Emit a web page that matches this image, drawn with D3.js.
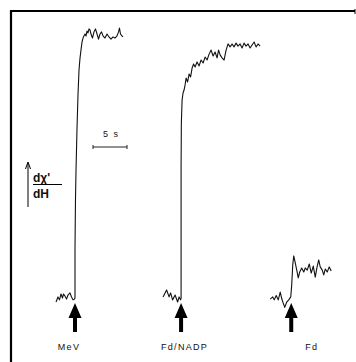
<!DOCTYPE html>
<html lang="en">
  <head>
    <meta charset="UTF-8" />
    <title>EPR traces</title>
    <style>
      body { margin: 0; background: #fff; }
      text { font-family: "Liberation Sans", Arial, sans-serif; fill: #111; }
    </style>
  </head>
  <body>
    <svg id="svg" width="356" height="362"></svg>

    <script src="https://cdn.jsdelivr.net/npm/d3@7"></script>
    <script>
      // additions (arrows), time of addition on the common time axis (s)
      const LABELS = ["MeV", "Fd/NADP", "Fd"];
      const INJECT_AT = [0, 15.6, 31.8];

      // traces: time after addition (s), signal (arbitrary units)
      const MEV_T = [-2.79, -2.5, -2.28, -2.06, -1.84, -1.69, -1.47, -1.25, -1.03, -0.74, -0.51, -0.29, -0.07,
        0, 0, 0.07, 0.15, 0.29, 0.44, 0.59, 0.74, 0.88, 1.03, 1.18,
        1.32, 1.47, 1.62, 1.76, 1.91, 2.06, 2.21, 2.35, 2.57, 2.79, 3.01, 3.24, 3.46, 3.68, 3.9, 4.12,
        4.41, 4.71, 5.0, 5.29, 5.59, 5.88, 6.18, 6.4, 6.54, 6.69, 6.91, 7.06];
      const MEV_V = [-1.5, 0.4, -0.7, 1.5, 0, 1.5, 0.7, -0.4, 1.1, 1.9, 0.4, -0.7, -0.4,
        0, 17.9, 36.6, 47.8, 62.7, 75.7, 85.1, 89.6, 92.5, 95.5, 97.0,
        97.8, 98.5, 97.8, 99.6, 98.9, 100.4, 100, 98.5, 97, 99.3, 100.4, 98.5, 96.6, 98.5, 99.3, 97.8,
        97, 98.5, 97.4, 96.6, 97.4, 97, 97.8, 99.3, 100.7, 98.5, 97.8, 97.4];

      const FDN_T = [-2.65, -2.13, -1.76, -1.54, -1.25, -0.88, -0.51, -0.29, -0.07,
        0, 0, 0.04, 0.15, 0.29, 0.44, 0.59, 0.74, 0.96, 1.18, 1.4, 1.62, 1.84, 2.06, 2.35, 2.65, 2.94,
        3.24, 3.53, 3.82, 4.12, 4.41, 4.71, 5.0, 5.29, 5.51, 5.74, 6.03, 6.32, 6.62, 6.91, 7.21, 7.5,
        7.79, 8.09, 8.38, 8.68, 8.97, 9.26, 9.56, 9.85, 10.15, 10.44, 10.74, 11.03, 11.32, 11.62];
      const FDN_V = [0.4, 3.0, 0.4, 1.9, -0.7, 1.1, -1.5, 0.4, -0.7,
        0, 47.8, 65.3, 73.9, 76.5, 77.6, 79.5, 82.1, 80.6, 83.6, 82.5, 85.8, 87.3, 86.2, 88.1, 86.6, 88.8,
        87.7, 89.9, 88.8, 91.0, 92.5, 90.3, 91.8, 89.6, 92.5, 90.7, 89.6, 88.8, 92.5, 94.8, 93.7, 94.8,
        93.7, 95.1, 94.0, 94.8, 93.3, 95.1, 94.0, 94.8, 93.3, 94.4, 95.5, 93.7, 94.8, 94.0];

      const FD_T = [-3.09, -2.72, -2.5, -2.21, -1.91, -1.62, -1.4, -1.18, -0.96, -0.66, -0.37, -0.07,
        0.07, 0.22, 0.37, 0.59, 0.81, 1.03, 1.25, 1.54, 1.84, 2.06, 2.35, 2.65, 2.94, 3.24, 3.53,
        3.82, 4.04, 4.26, 4.56, 4.78, 5.0, 5.29, 5.59, 5.88];
      const FD_V = [-0.4, 0.4, -0.7, 0.9, -0.7, 2.2, -0.2, -1.9, -3.5, -1.5, -0.7, 0.4,
        4.9, 12.3, 15.7, 13.1, 10.4, 7.5, 9.7, 11.2, 9.7, 11.2, 10.4, 12.7, 9.3, 11.9, 7.8,
        11.9, 14.2, 11.6, 10.4, 8.6, 10.8, 9.7, 11.6, 10.1];

      const SCALE_BAR_S = 5;
      const SCALE_LABEL = "5 s";

      const TRACES = [
        { t: MEV_T, v: MEV_V },
        { t: FDN_T, v: FDN_V },
        { t: FD_T, v: FD_V },
      ];
      const LABEL_DX = [-6, 3.5, 20.5];

      const svg = d3.select("#svg");
      const xScale = d3.scaleLinear().domain([-10, 40]).range([7, 347]);
      const yScale = d3.scaleLinear().domain([0, 100]).range([298, 30]);

      // frame (top and left)
      svg.append("path")
        .attr("d", "M11,362 L11,11 L355,11")
        .attr("fill", "none").attr("stroke", "#000").attr("stroke-width", 2.2);
      svg.append("line")
        .attr("x1", 355).attr("x2", 355).attr("y1", 9).attr("y2", 14)
        .attr("stroke", "#000").attr("stroke-width", 1);

      const line = d3.line()
        .x((d) => xScale(d[0]))
        .y((d) => yScale(d[1]));

      TRACES.forEach((tr, i) => {
        const pts = tr.t.map((t, j) => [INJECT_AT[i] + t, tr.v[j]]);
        svg.append("path")
          .attr("d", line(pts))
          .attr("fill", "none")
          .attr("stroke", "#111")
          .attr("stroke-width", 1.1)
          .attr("stroke-linejoin", "round");
      });

      // addition arrows and labels
      const arrows = svg.append("g");
      INJECT_AT.forEach((t0, i) => {
        const x = xScale(t0);
        arrows.append("path")
          .attr("d", `M${x},303 L${x + 6.5},318 L${x + 2},318 L${x + 2},332 L${x - 2},332 L${x - 2},318 L${x - 6.5},318 Z`)
          .attr("fill", "#000");
        arrows.append("text")
          .attr("x", x + LABEL_DX[i])
          .attr("y", 350)
          .attr("text-anchor", "middle")
          .attr("font-size", 9)
          .attr("letter-spacing", 1.3)
          .text(LABELS[i]);
      });

      // time scale bar
      const barX0 = 93;
      const barLen = xScale(SCALE_BAR_S) - xScale(0);
      const bar = svg.append("g").attr("stroke", "#222").attr("stroke-width", 1);
      bar.append("line").attr("x1", barX0).attr("x2", barX0 + barLen).attr("y1", 147).attr("y2", 147);
      bar.append("line").attr("x1", barX0).attr("x2", barX0).attr("y1", 145).attr("y2", 149);
      bar.append("line").attr("x1", barX0 + barLen).attr("x2", barX0 + barLen).attr("y1", 145).attr("y2", 149);
      svg.append("text")
        .attr("x", barX0 + barLen / 2 - 7)
        .attr("y", 137)
        .attr("font-size", 9)
        .attr("letter-spacing", 1.5)
        .text(SCALE_LABEL);

      // signal axis label: d chi' / dH with upward arrow
      const lab = svg.append("g");
      lab.append("line").attr("x1", 28).attr("x2", 28).attr("y1", 163).attr("y2", 207)
        .attr("stroke", "#000").attr("stroke-width", 1);
      lab.append("path").attr("d", "M25.5,169 L28,162 L30.5,169")
        .attr("fill", "none").attr("stroke", "#000").attr("stroke-width", 1);
      lab.append("text").attr("x", 33).attr("y", 182)
        .attr("font-size", 12).attr("font-weight", "bold").text("dχ'");
      lab.append("line").attr("x1", 33).attr("x2", 62).attr("y1", 184.5).attr("y2", 184.5)
        .attr("stroke", "#000").attr("stroke-width", 1);
      lab.append("text").attr("x", 33).attr("y", 198)
        .attr("font-size", 12).attr("font-weight", "bold").text("dH");
    </script>
  </body>
</html>
